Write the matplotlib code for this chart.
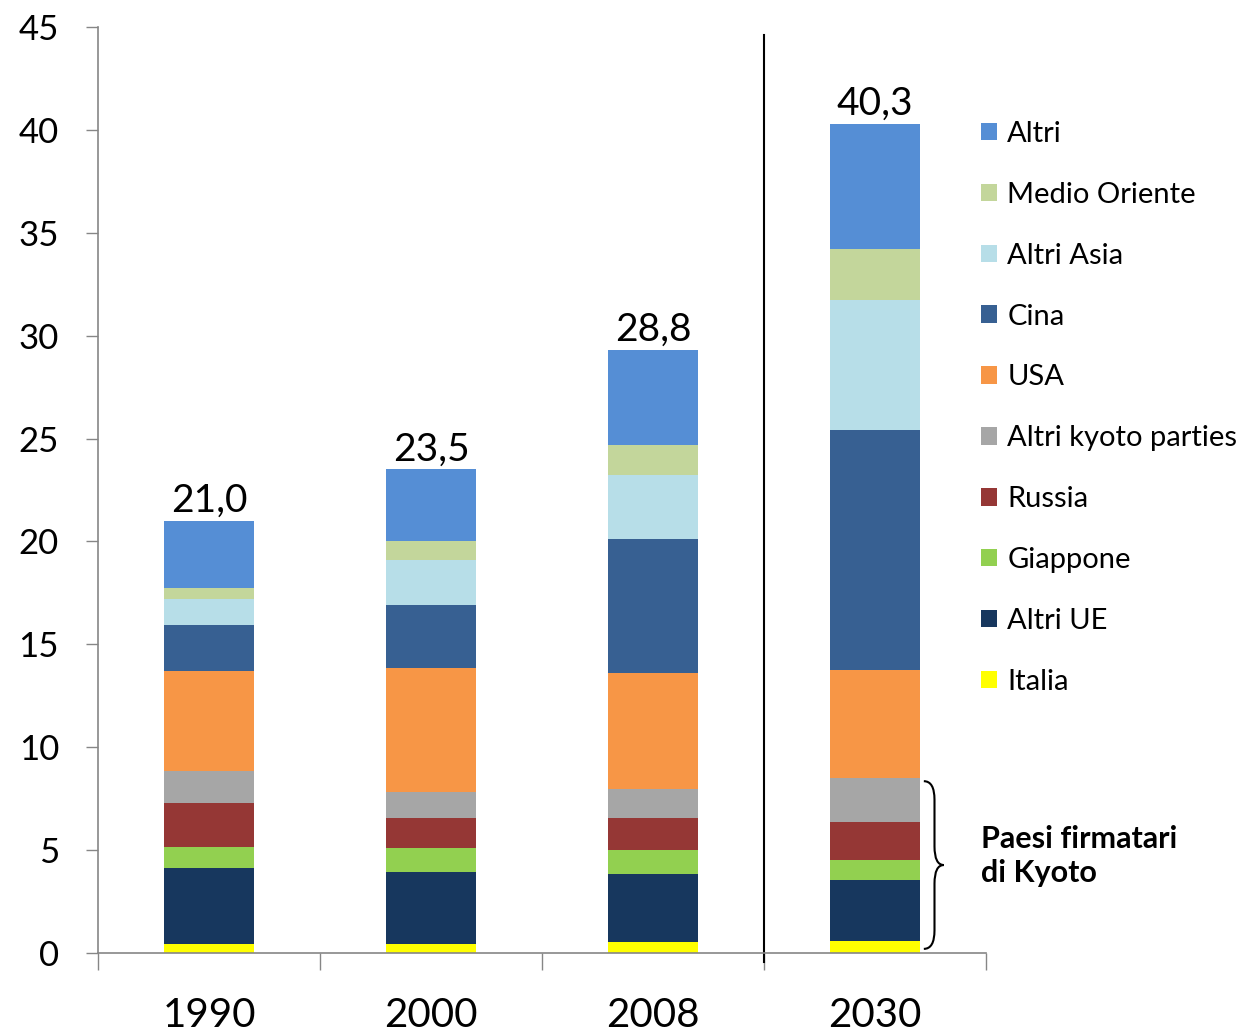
import matplotlib
matplotlib.use("Agg")
import matplotlib.pyplot as plt
from matplotlib.path import Path
from matplotlib.patches import PathPatch, Patch
import numpy as np

# Dati (Gt CO2), dal basso verso l'alto
anni = ['1990', '2000', '2008', '2030']
italia = [0.45, 0.45, 0.55, 0.57]
altri_ue = [3.67, 3.50, 3.27, 2.99]
giappone = [1.05, 1.15, 1.17, 0.95]
russia = [2.14, 1.45, 1.55, 1.86]
altri_kyoto = [1.55, 1.26, 1.45, 2.13]
usa = [4.86, 6.02, 5.63, 5.24]
cina = [2.20, 3.10, 6.50, 11.70]
altri_asia = [1.29, 2.15, 3.10, 6.31]
medio_oriente = [0.55, 0.95, 1.45, 2.46]
altri = [3.24, 3.47, 4.65, 6.08]
etichette_totali = ['21,0', '23,5', '28,8', '40,3']

serie = [
    ('Italia', italia, '#FFFF00'),
    ('Altri UE', altri_ue, '#17375E'),
    ('Giappone', giappone, '#92D050'),
    ('Russia', russia, '#953735'),
    ('Altri kyoto parties', altri_kyoto, '#A6A6A6'),
    ('USA', usa, '#F79646'),
    ('Cina', cina, '#376092'),
    ('Altri Asia', altri_asia, '#B7DEE8'),
    ('Medio Oriente', medio_oriente, '#C3D69B'),
    ('Altri', altri, '#558ED5'),
]
n_kyoto = 5  # prime cinque serie = paesi firmatari

plt.rcParams['font.family'] = ['Lato', 'DejaVu Sans']

fig = plt.figure(figsize=(12.49, 10.35), dpi=100)
ax = fig.add_axes([98 / 1249, 1 - 953 / 1035, (986 - 98) / 1249, (953 - 27) / 1035])

x = np.arange(len(anni))
base = np.zeros(len(anni))
for nome, valori, colore in serie:
    ax.bar(x, valori, bottom=base, width=0.405, color=colore, label=nome, linewidth=0)
    base += np.array(valori)

# etichette dei totali
for xi, tot, lab in zip(x, base, etichette_totali):
    ax.text(xi, tot + 0.1, lab, ha='center', va='bottom', fontsize=28)

ax.set_xlim(-0.5, 3.5)
ax.set_ylim(0, 45)
ax.set_yticks(np.arange(0, 46, 5))
ax.tick_params(axis='y', labelsize=25, length=9, width=1, color='#868686', pad=19)
ax.set_xticks(np.arange(-0.5, 3.6, 1))
ax.set_xticklabels([])
ax.set_xticks(x, minor=True)
ax.set_xticklabels(anni, minor=True)
ax.tick_params(axis='x', which='major', length=12, width=1, color='#868686', direction='out')
ax.tick_params(axis='x', which='minor', length=0, labelsize=29, pad=32)

for s in ['top', 'right']:
    ax.spines[s].set_visible(False)
for s in ['left', 'bottom']:
    ax.spines[s].set_color('#868686')
    ax.spines[s].set_linewidth(1.2)

# separatore tra dati storici e proiezione
ax.plot([2.5, 2.5], [-0.45, 44.6], color='black', lw=1.5, clip_on=False)

# parentesi graffa per i paesi di Kyoto (barra 2030)
yt = sum(s[1][3] for s in serie[:n_kyoto]) - 0.15
yb = 0.2
ym = (yt + yb) / 2
x0, x1, x2 = 3.22, 3.268, 3.31
c = 0.9
verts = [(x0, yt), (x1, yt), (x1, yt - c),
         (x1, ym + c),
         (x1, ym), (x2, ym),
         (x1, ym), (x1, ym - c),
         (x1, yb + c),
         (x1, yb), (x0, yb)]
codes = [Path.MOVETO, Path.CURVE3, Path.CURVE3,
         Path.LINETO,
         Path.CURVE3, Path.CURVE3,
         Path.CURVE3, Path.CURVE3,
         Path.LINETO,
         Path.CURVE3, Path.CURVE3]
ax.add_patch(PathPatch(Path(verts, codes), facecolor='none', edgecolor='black', lw=1.5, clip_on=False))

fig.text(981 / 1249, 1 - 856 / 1035, 'Paesi firmatari\ndi Kyoto', ha='left', va='center',
         fontsize=22, fontweight='bold', linespacing=1.3)

# legenda (ordine inverso)
handles = [Patch(facecolor=col, edgecolor='none') for _, _, col in serie][::-1]
labels = [nome for nome, _, _ in serie][::-1]
fig.legend(handles, labels, loc='upper left', bbox_to_anchor=(981 / 1249, 1 - 121 / 1035),
           frameon=False, fontsize=21, handlelength=0.55, handleheight=0.55,
           handletextpad=0.35, labelspacing=1.195, borderpad=0, borderaxespad=0)

plt.savefig('out.png', dpi=100)
